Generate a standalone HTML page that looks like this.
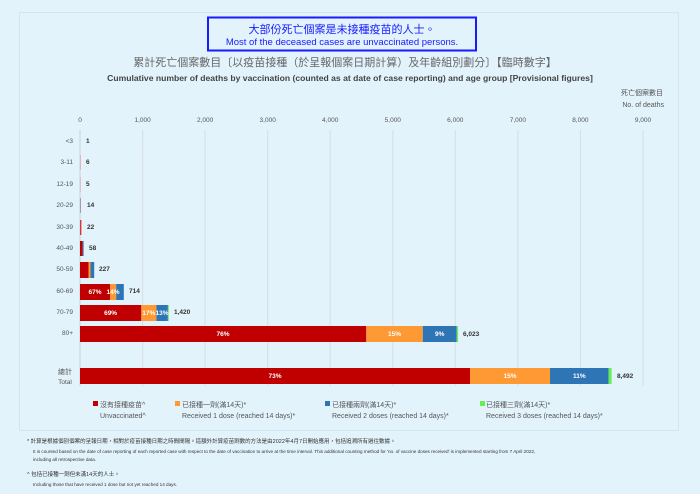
<!DOCTYPE html>
<html><head><meta charset="utf-8"><style>
html,body{margin:0;padding:0;background:#e2f3fc;}
svg{display:block;font-family:"Liberation Sans","Noto Sans CJK TC",sans-serif;}
</style></head><body>
<svg width="700" height="494" viewBox="0 0 700 494" xmlns="http://www.w3.org/2000/svg">
<rect width="700" height="494" fill="#e2f3fc"/>
<rect x="19.5" y="12.5" width="659" height="418" fill="#e2f3fc" stroke="#d3e6ef" stroke-width="1"/>
<rect x="208" y="17.5" width="268" height="33" fill="#e2f3fc" stroke="#1a1aff" stroke-width="2"/>
<text x="342" y="33" text-anchor="middle" font-size="11" fill="#1a1aff">大部份死亡個案是未接種疫苗的人士。</text>
<text x="342" y="45" text-anchor="middle" font-size="9.5" fill="#1a1aff">Most of the deceased cases are unvaccinated persons.</text>
<text x="345" y="66" text-anchor="middle" font-size="11" fill="#666">累計死亡個案數目〔以疫苗接種（於呈報個案日期計算）及年齡組別劃分〕【臨時數字】</text>
<text x="350" y="81" text-anchor="middle" font-size="8.6" font-weight="bold" fill="#444">Cumulative number of deaths by vaccination (counted as at date of case reporting) and age group [Provisional figures]</text>
<text x="663" y="95" text-anchor="end" font-size="7" fill="#555">死亡個案數目</text>
<text x="664" y="107" text-anchor="end" font-size="7" fill="#555">No. of deaths</text>
<g font-size="6.5" fill="#555" text-anchor="middle">
<text x="80" y="122">0</text><text x="142.6" y="122">1,000</text><text x="205.1" y="122">2,000</text><text x="267.7" y="122">3,000</text><text x="330.2" y="122">4,000</text><text x="392.8" y="122">5,000</text><text x="455.3" y="122">6,000</text><text x="517.9" y="122">7,000</text><text x="580.4" y="122">8,000</text><text x="643" y="122">9,000</text>
</g>
<g stroke="#d6dde2" stroke-width="1">
<line x1="142.6" y1="130" x2="142.6" y2="386"/><line x1="205.1" y1="130" x2="205.1" y2="386"/><line x1="267.7" y1="130" x2="267.7" y2="386"/><line x1="330.2" y1="130" x2="330.2" y2="386"/><line x1="392.8" y1="130" x2="392.8" y2="386"/><line x1="455.3" y1="130" x2="455.3" y2="386"/><line x1="517.9" y1="130" x2="517.9" y2="386"/><line x1="580.4" y1="130" x2="580.4" y2="386"/><line x1="643" y1="130" x2="643" y2="386"/>
</g>
<line x1="80" y1="130" x2="80" y2="386" stroke="#c8d0d6"/>
<g font-size="6.5" fill="#555" text-anchor="end">
<text x="73" y="143">&lt;3</text><text x="73" y="164">3-11</text><text x="73" y="186">12-19</text><text x="73" y="207">20-29</text><text x="73" y="229">30-39</text><text x="73" y="250">40-49</text><text x="73" y="271">50-59</text><text x="73" y="293">60-69</text><text x="73" y="314">70-79</text><text x="73" y="335">80+</text>
</g>
<g font-size="7" fill="#555" text-anchor="middle">
<text x="65" y="374">總計</text><text x="65" y="384" font-size="6.5">Total</text>
</g>
<rect x="80" y="155" width="0.6" height="15" fill="#e88"/>
<rect x="80" y="177" width="0.5" height="15" fill="#e88"/>
<rect x="80" y="198" width="0.9" height="15" fill="#a8a"/>
<rect x="80" y="220" width="1.4" height="15" fill="#d33"/>
<rect x="80" y="241" width="2.6" height="15" fill="#c00000"/><rect x="82.6" y="241" width="1" height="15" fill="#2e75b6"/>
<rect x="80" y="262" width="8.5" height="16" fill="#c00000"/><rect x="88.5" y="262" width="2" height="16" fill="#ff9933"/><rect x="90.5" y="262" width="3.7" height="16" fill="#2e75b6"/>
<rect x="80" y="284" width="30" height="16" fill="#c00000"/><rect x="110" y="284" width="6.2" height="16" fill="#ff9933"/><rect x="116.2" y="284" width="7.6" height="16" fill="#2e75b6"/>
<rect x="80" y="305" width="61.3" height="16" fill="#c00000"/><rect x="141.3" y="305" width="15.1" height="16" fill="#ff9933"/><rect x="156.4" y="305" width="11.5" height="16" fill="#2e75b6"/><rect x="167.9" y="305" width="0.9" height="16" fill="#66ee55"/>
<rect x="80" y="326" width="286.3" height="16" fill="#c00000"/><rect x="366.3" y="326" width="56.5" height="16" fill="#ff9933"/><rect x="422.8" y="326" width="33.9" height="16" fill="#2e75b6"/><rect x="456.7" y="326" width="1.4" height="16" fill="#66ee55"/>
<rect x="80" y="368" width="390" height="16" fill="#c00000"/><rect x="470" y="368" width="80" height="16" fill="#ff9933"/><rect x="550" y="368" width="58.6" height="16" fill="#2e75b6"/><rect x="608.6" y="368" width="3" height="16" fill="#66ee55"/>
<g font-size="6.5" fill="#fff" font-weight="bold" text-anchor="middle">
<text x="95" y="294">67%</text><text x="113" y="294">14%</text>
<text x="110.6" y="315">69%</text><text x="148.8" y="315">17%</text><text x="162" y="315">13%</text>
<text x="223" y="336">76%</text><text x="394.5" y="336">15%</text><text x="439.7" y="336">9%</text>
<text x="275" y="378">73%</text><text x="510" y="378">15%</text><text x="579.3" y="378">11%</text>
</g>
<g font-size="6.5" fill="#333" font-weight="bold">
<text x="86" y="143">1</text><text x="86" y="164">6</text><text x="86" y="186">5</text><text x="87" y="207">14</text><text x="87" y="229">22</text><text x="89" y="250">58</text><text x="99" y="271">227</text><text x="129" y="293">714</text><text x="174" y="314">1,420</text><text x="463" y="336">6,023</text><text x="617" y="378">8,492</text>
</g>
<g font-size="7" fill="#555">
<rect x="93" y="401" width="5" height="5" fill="#c00000"/><text x="100" y="407">沒有接種疫苗^</text><text x="100" y="418">Unvaccinated^</text>
<rect x="175" y="401" width="5" height="5" fill="#ff9933"/><text x="182" y="407">已接種一劑(滿14天)*</text><text x="182" y="418">Received 1 dose (reached 14 days)*</text>
<rect x="325" y="401" width="5" height="5" fill="#2e75b6"/><text x="332" y="407">已接種兩劑(滿14天)*</text><text x="332" y="418">Received 2 doses (reached 14 days)*</text>
<rect x="480" y="401" width="5" height="5" fill="#66ee55"/><text x="486" y="407">已接種三劑(滿14天)*</text><text x="486" y="418">Received 3 doses (reached 14 days)*</text>
</g>
<g fill="#333">
<text x="27" y="443" font-size="5.5">* 計算是根據個別個案的呈報日期，相對於疫苗接種日期之時間間隔。這額外計算疫苗劑數的方法是由2022年4月7日開始應用，包括追溯所有過往數據。</text>
<text x="33" y="453" font-size="4.6">It is counted based on the date of case reporting of each reported case with respect to the date of vaccination to arrive at the time interval. This additional counting method for 'no. of vaccine doses received' is implemented starting from 7 April 2022,</text>
<text x="33" y="461" font-size="4.6">including all retrospective data.</text>
<text x="27" y="476" font-size="5.5">^ 包括已接種一劑但未滿14天的人士。</text>
<text x="33" y="486" font-size="4.6">Including those that have received 1 dose but not yet reached 14 days.</text>
</g>
</svg>
</body></html>
